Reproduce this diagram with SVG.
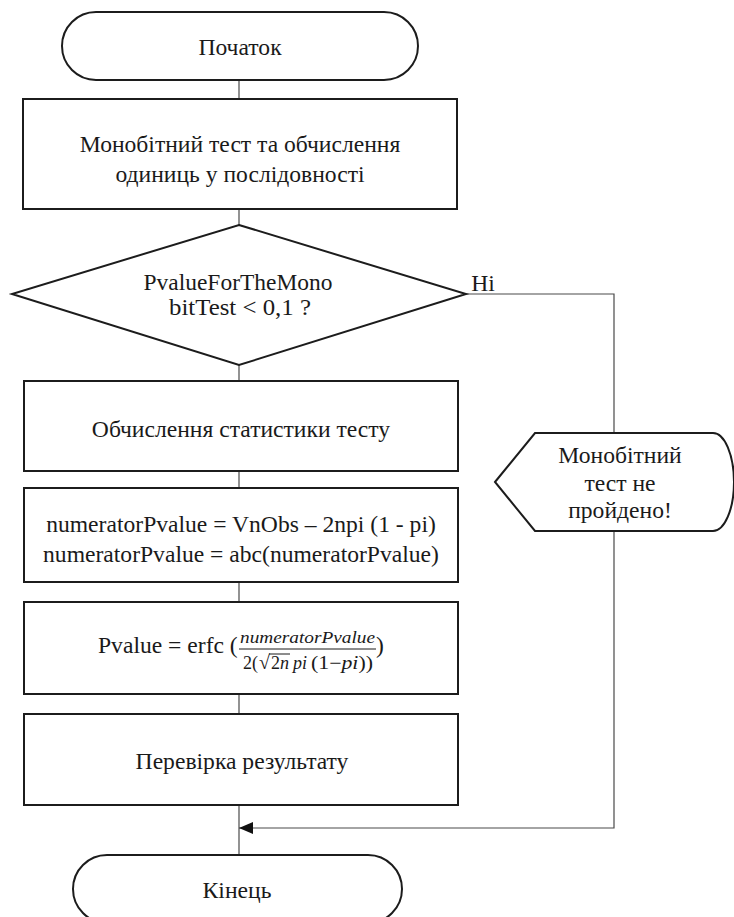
<svg xmlns="http://www.w3.org/2000/svg" width="734" height="917" viewBox="0 0 734 917">
  <defs>
    <style>
      .shape { fill: #ffffff; stroke: #1c1c1c; stroke-width: 2; }
      .conn { fill: none; stroke: #4a4a4a; stroke-width: 1.2; }
      .t { font-size: 23.6px; fill: #1a1a1a; text-anchor: middle; }
      .m { font-style: italic; font-size: 17px; fill: #1a1a1a; }
      .d { font-size: 18px; fill: #1a1a1a; }
    </style>
    <marker id="arrow" viewBox="0 0 14 12" refX="14" refY="6" markerWidth="14" markerHeight="12" markerUnits="userSpaceOnUse" orient="auto">
      <path d="M0,0 L14,6 L0,12 Z" fill="#111111"/>
    </marker>
  </defs>

  <rect width="734" height="917" fill="#ffffff"/>

  <g font-family="Liberation Serif, DejaVu Serif, serif">
  <!-- connectors -->
  <g id="connectors">
    <line class="conn" x1="239" y1="80" x2="239" y2="99"/>
    <line class="conn" x1="239" y1="209" x2="239" y2="225"/>
    <line class="conn" x1="239" y1="365" x2="239" y2="381"/>
    <line class="conn" x1="239" y1="471" x2="239" y2="488"/>
    <line class="conn" x1="239" y1="582" x2="239" y2="602"/>
    <line class="conn" x1="239" y1="694" x2="239" y2="714"/>
    <line class="conn" x1="239" y1="805" x2="239" y2="855"/>
    <polyline class="conn" points="466,294 614,294 614,828 239,828" marker-end="url(#arrow)"/>
    <text class="t" x="483" y="291">Hi</text>
  </g>

  <g id="start">
    <rect class="shape" x="62" y="12" width="356" height="68" rx="34" ry="34"/>
    <text class="t" x="240" y="55">Початок</text>
  </g>

  <g id="monobit">
    <rect class="shape" x="23" y="99" width="434" height="110"/>
    <text class="t" x="240" y="152">Монобітний тест та обчислення</text>
    <text class="t" x="240" y="182">одиниць у послідовності</text>
  </g>

  <g id="decision">
    <polygon class="shape" points="239,225 466,294 239,365 12,294"/>
    <text class="t" x="238" y="290" textLength="189" lengthAdjust="spacingAndGlyphs">PvalueForTheMono</text>
    <text class="t" x="240" y="315" textLength="142" lengthAdjust="spacingAndGlyphs">bitTest &lt; 0,1 ?</text>
  </g>

  <g id="statistic">
    <rect class="shape" x="24" y="381" width="434" height="90"/>
    <text class="t" x="241" y="437">Обчислення статистики тесту</text>
  </g>

  <g id="numerator">
    <rect class="shape" x="24" y="488" width="434" height="94"/>
    <text class="t" x="241" y="532">numeratorPvalue = VnObs – 2npi (1 - pi)</text>
    <text class="t" x="241" y="562">numeratorPvalue = abc(numeratorPvalue)</text>
  </g>

  <g id="pvalue">
    <rect class="shape" x="24" y="602" width="434" height="92"/>
    <text class="t" x="98" y="653" style="text-anchor:start">Pvalue = erfc (</text>
    <text class="m" x="240" y="643" textLength="135" lengthAdjust="spacingAndGlyphs">numeratorPvalue</text>
    <line x1="239" y1="649" x2="376" y2="649" stroke="#1a1a1a" stroke-width="1"/>
    <!-- denominator: 2(√2n pi (1−pi)) -->
    <text class="d" x="243" y="669">2(</text>
    <text class="d" x="259" y="669" style="font-size:20px">√</text>
    <line x1="269" y1="654" x2="290" y2="654" stroke="#1a1a1a" stroke-width="1"/>
    <text class="d" x="271" y="669">2<tspan style="font-style:italic">n</tspan></text>
    <text class="d" x="293" y="669" style="font-style:italic">pi</text>
    <text class="d" x="311" y="669" textLength="62" lengthAdjust="spacingAndGlyphs">(1−<tspan style="font-style:italic">pi</tspan>))</text>
    <text class="t" x="376" y="653" style="text-anchor:start">)</text>
  </g>

  <g id="check">
    <rect class="shape" x="24" y="714" width="434" height="91"/>
    <text class="t" x="242" y="769">Перевірка результату</text>
  </g>

  <g id="failed">
    <path class="shape" d="M495,482 L535,433 L713,433 A21,49 0 0 1 713,531 L535,531 Z"/>
    <text class="t" x="620" y="463">Монобітний</text>
    <text class="t" x="620" y="491">тест не</text>
    <text class="t" x="620" y="518">пройдено!</text>
  </g>

  <g id="end">
    <rect class="shape" x="73" y="855" width="329" height="68" rx="34" ry="34"/>
    <text class="t" x="237" y="898">Кінець</text>
  </g>
  </g>
</svg>
